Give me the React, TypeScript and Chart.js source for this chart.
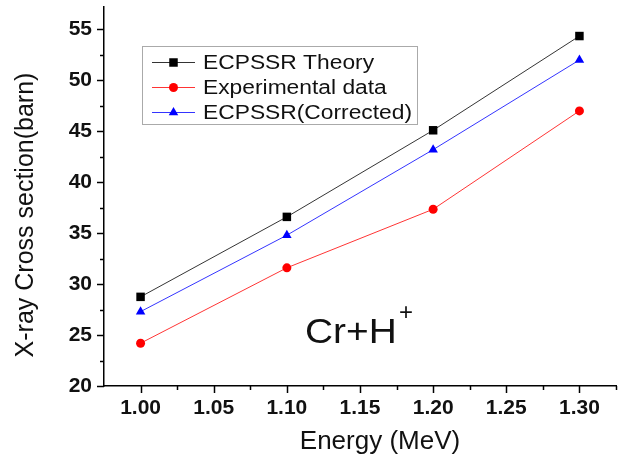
import React, { useEffect, useRef } from 'react';
import { Chart, registerables } from 'chart.js';

Chart.register(...registerables);

// ---- data ----
const energies = [1.0, 1.1, 1.2, 1.3];
const ecpssrTheory = [28.75, 36.6, 45.1, 54.35];
const experimentalData = [24.2, 31.6, 37.35, 47.0];
const ecpssrCorrected = [27.3, 34.8, 43.2, 52.0];
const seriesLabels = ['ECPSSR Theory', 'Experimental data', 'ECPSSR(Corrected)'];

const xTickValues = [1.0, 1.05, 1.1, 1.15, 1.2, 1.25, 1.3];
const xTickLabels = ['1.00', '1.05', '1.10', '1.15', '1.20', '1.25', '1.30'];
const xMinorTicks = [1.025, 1.075, 1.125, 1.175, 1.225, 1.275, 1.325];
const yTickValues = [20, 25, 30, 35, 40, 45, 50, 55];
const yTickLabels = ['20', '25', '30', '35', '40', '45', '50', '55'];
const yMinorTicks = [22.5, 27.5, 32.5, 37.5, 42.5, 47.5, 52.5];

const xTitle = 'Energy (MeV)';
const yTitle = 'X-ray Cross section(barn)';
const annotationMain = 'Cr+H';
const annotationSup = '+';

const seriesColors = ['#000000', '#ff0000', '#0000ff'];
const seriesShapes = ['rect', 'circle', 'triangle'];

function drawMarker(ctx: CanvasRenderingContext2D, shape: string, x: number, y: number, color: string) {
  ctx.save();
  ctx.fillStyle = color;
  ctx.beginPath();
  if (shape === 'rect') {
    ctx.rect(x - 4.25, y - 4.25, 8.5, 8.5);
  } else if (shape === 'circle') {
    ctx.arc(x, y, 4.5, 0, Math.PI * 2);
  } else {
    const r = 5.5;
    ctx.moveTo(x, y - r);
    ctx.lineTo(x + r * Math.sqrt(3) / 2, y + r / 2);
    ctx.lineTo(x - r * Math.sqrt(3) / 2, y + r / 2);
    ctx.closePath();
  }
  ctx.fill();
  ctx.restore();
}

const decorPlugin = {
  id: 'decor',
  afterDraw(chart: any) {
    const ctx: CanvasRenderingContext2D = chart.ctx;
    const xs = chart.scales.x;
    const ys = chart.scales.y;
    const area = chart.chartArea;
    ctx.save();
    ctx.strokeStyle = '#000';
    ctx.lineWidth = 1.5;
    // x ticks
    xTickValues.forEach((v) => {
      const px = Math.round(xs.getPixelForValue(v)) + 0.5;
      ctx.beginPath();
      ctx.moveTo(px, area.bottom);
      ctx.lineTo(px, area.bottom + 7);
      ctx.stroke();
    });
    xMinorTicks.forEach((v) => {
      const px = Math.round(xs.getPixelForValue(v)) + 0.5;
      ctx.beginPath();
      ctx.moveTo(px, area.bottom);
      ctx.lineTo(px, area.bottom + 4);
      ctx.stroke();
    });
    // y ticks
    yTickValues.forEach((v) => {
      const py = Math.round(ys.getPixelForValue(v)) + 0.5;
      ctx.beginPath();
      ctx.moveTo(area.left - 7, py);
      ctx.lineTo(area.left, py);
      ctx.stroke();
    });
    yMinorTicks.forEach((v) => {
      const py = Math.round(ys.getPixelForValue(v)) + 0.5;
      ctx.beginPath();
      ctx.moveTo(area.left - 4, py);
      ctx.lineTo(area.left, py);
      ctx.stroke();
    });

    // axis titles
    ctx.fillStyle = '#111';
    ctx.font = '26px "Liberation Sans", Arial, sans-serif';
    ctx.textAlign = 'center';
    ctx.textBaseline = 'alphabetic';
    ctx.fillText(xTitle, 380, 449);
    ctx.save();
    ctx.font = '25px "Liberation Sans", Arial, sans-serif';
    ctx.translate(33, 215);
    ctx.rotate(-Math.PI / 2);
    ctx.fillText(yTitle, 0, 0);
    ctx.restore();

    // annotation
    ctx.save();
    ctx.textAlign = 'left';
    ctx.font = '35px "Liberation Sans", Arial, sans-serif';
    ctx.translate(305, 343);
    ctx.scale(1.11, 1);
    ctx.fillText(annotationMain, 0, 0);
    ctx.restore();
    ctx.save();
    ctx.textAlign = 'left';
    ctx.font = '24px "Liberation Sans", Arial, sans-serif';
    ctx.fillText(annotationSup, 399, 320);
    ctx.restore();

    // legend
    ctx.strokeStyle = '#aaaaaa';
    ctx.lineWidth = 1;
    ctx.strokeRect(142.5, 46.5, 275, 78);
    const rows = [62, 87, 112];
    seriesLabels.forEach((label, i) => {
      const y = rows[i];
      ctx.strokeStyle = seriesColors[i];
      ctx.lineWidth = 0.8;
      ctx.beginPath();
      ctx.moveTo(152, y + 0.5);
      ctx.lineTo(195, y + 0.5);
      ctx.stroke();
      drawMarker(ctx, seriesShapes[i], 173.5, y + 0.5, seriesColors[i]);
      ctx.save();
      ctx.fillStyle = '#111';
      ctx.font = '20px "Liberation Sans", Arial, sans-serif';
      ctx.textAlign = 'left';
      ctx.translate(203, y + 7);
      ctx.scale(1.14, 1);
      ctx.fillText(label, 0, 0);
      ctx.restore();
    });
    ctx.restore();
  },
};

function makeDataset(label: string, values: number[], i: number) {
  return {
    label,
    data: energies.map((e, k) => ({ x: e, y: values[k] })),
    borderColor: seriesColors[i],
    backgroundColor: seriesColors[i],
    borderWidth: 0.8,
    pointStyle: seriesShapes[i],
    pointRadius: i === 0 ? 6 : i === 1 ? 4.5 : 5.5,
    pointBorderWidth: 0,
    pointBackgroundColor: seriesColors[i],
    tension: 0,
  };
}

export default function App() {
  const ref = useRef<HTMLCanvasElement | null>(null);
  useEffect(() => {
    if (!ref.current) return;
    const chart = new Chart(ref.current, {
      type: 'line',
      data: {
        datasets: [
          makeDataset(seriesLabels[0], ecpssrTheory, 0),
          makeDataset(seriesLabels[1], experimentalData, 1),
          makeDataset(seriesLabels[2], ecpssrCorrected, 2),
        ],
      },
      options: {
        responsive: false,
        animation: false,
        devicePixelRatio: 1,
        layout: { padding: { top: 7, right: 0, left: 0, bottom: 0 } },
        plugins: { legend: { display: false }, tooltip: { enabled: false } },
        scales: {
          x: {
            type: 'linear',
            min: 0.975,
            max: 1.325,
            grid: { display: false, drawTicks: false },
            border: { display: true, color: '#000', width: 1.5 },
            afterBuildTicks: (s: any) => {
              s.ticks = xTickValues.map((v) => ({ value: v }));
            },
            afterFit: (s: any) => {
              s.height = 75;
              s.paddingLeft = 0;
              s.paddingRight = 0;
            },
            ticks: {
              padding: 10,
              color: '#111',
              font: { family: '"Liberation Sans", Arial, sans-serif', size: 21, weight: 'bold' },
              callback: (v: any) => {
                const idx = xTickValues.findIndex((t) => Math.abs(t - v) < 1e-6);
                return idx >= 0 ? xTickLabels[idx] : '';
              },
              maxRotation: 0,
              autoSkip: false,
            },
          },
          y: {
            type: 'linear',
            min: 20,
            max: 57.2,
            grid: { display: false, drawTicks: false },
            border: { display: true, color: '#000', width: 1.5 },
            afterBuildTicks: (s: any) => {
              s.ticks = yTickValues.map((v) => ({ value: v }));
            },
            afterFit: (s: any) => {
              s.width = 104;
              s.paddingTop = 0;
              s.paddingBottom = 0;
            },
            ticks: {
              padding: 12,
              color: '#111',
              font: { family: '"Liberation Sans", Arial, sans-serif', size: 21, weight: 'bold' },
              callback: (v: any) => {
                const idx = yTickValues.findIndex((t) => Math.abs(t - v) < 1e-6);
                return idx >= 0 ? yTickLabels[idx] : '';
              },
              autoSkip: false,
            },
          },
        },
      },
      plugins: [decorPlugin],
    } as any);
    return () => chart.destroy();
  }, []);
  return (
    <div style={{ position: 'absolute', left: 0, top: 0, width: 622, height: 461, background: '#fff' }}>
      <canvas ref={ref} width={622} height={461} />
    </div>
  );
}
